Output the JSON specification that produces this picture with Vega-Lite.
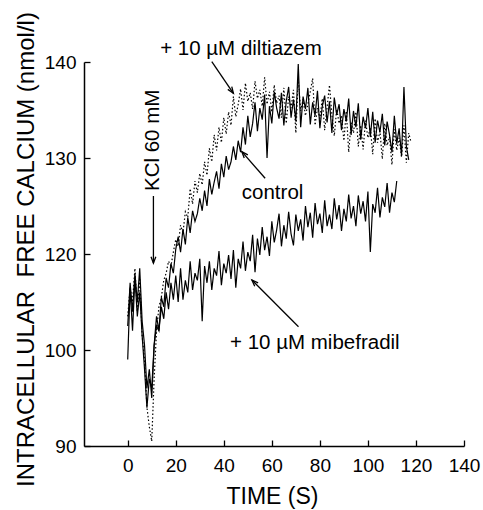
{
"$schema":"https://vega.github.io/schema/vega-lite/v6.json",
"autosize":"none",
"width":380,"height":384,
"padding":{"left":84,"top":62,"right":19,"bottom":64},
"background":"white",
"config":{"view":{"stroke":null},"font":"Liberation Sans"},
"datasets":{
"traces":[
{"s":"mibefradil","t":0,"v":99},{"s":"mibefradil","t":1,"v":113},{"s":"mibefradil","t":2,"v":104},{"s":"mibefradil","t":3,"v":115},{"s":"mibefradil","t":4,"v":107},{"s":"mibefradil","t":5,"v":112},{"s":"mibefradil","t":6,"v":103},{"s":"mibefradil","t":7,"v":98},{"s":"mibefradil","t":8,"v":94},{"s":"mibefradil","t":9,"v":97},
{"s":"mibefradil","t":10,"v":96},{"s":"mibefradil","t":11,"v":101},{"s":"mibefradil","t":12,"v":105},{"s":"mibefradil","t":13,"v":104},{"s":"mibefradil","t":14,"v":109},{"s":"mibefradil","t":15,"v":106.5},{"s":"mibefradil","t":16,"v":112},{"s":"mibefradil","t":17,"v":108.5},{"s":"mibefradil","t":18,"v":114},{"s":"mibefradil","t":19,"v":110.5},
{"s":"mibefradil","t":20,"v":115.5},{"s":"mibefradil","t":21,"v":110},{"s":"mibefradil","t":22,"v":117},{"s":"mibefradil","t":23,"v":110.5},{"s":"mibefradil","t":24,"v":114.5},{"s":"mibefradil","t":25,"v":112},{"s":"mibefradil","t":26,"v":118.5},{"s":"mibefradil","t":27,"v":112.5},{"s":"mibefradil","t":28,"v":116},{"s":"mibefradil","t":29,"v":114.5},
{"s":"mibefradil","t":30,"v":119},{"s":"mibefradil","t":31,"v":106},{"s":"mibefradil","t":32,"v":117.5},{"s":"mibefradil","t":33,"v":114},{"s":"mibefradil","t":34,"v":118.5},{"s":"mibefradil","t":35,"v":112.5},{"s":"mibefradil","t":36,"v":117},{"s":"mibefradil","t":37,"v":115.5},{"s":"mibefradil","t":38,"v":120.3},{"s":"mibefradil","t":39,"v":113.5},
{"s":"mibefradil","t":40,"v":118},{"s":"mibefradil","t":41,"v":116},{"s":"mibefradil","t":42,"v":119.8},{"s":"mibefradil","t":43,"v":114.8},{"s":"mibefradil","t":44,"v":120.4},{"s":"mibefradil","t":45,"v":113},{"s":"mibefradil","t":46,"v":119},{"s":"mibefradil","t":47,"v":117},{"s":"mibefradil","t":48,"v":121.3},{"s":"mibefradil","t":49,"v":116.5},
{"s":"mibefradil","t":50,"v":120.2},{"s":"mibefradil","t":51,"v":118.5},{"s":"mibefradil","t":52,"v":122},{"s":"mibefradil","t":53,"v":116.2},{"s":"mibefradil","t":54,"v":121.6},{"s":"mibefradil","t":55,"v":119.8},{"s":"mibefradil","t":56,"v":122.8},{"s":"mibefradil","t":57,"v":120.4},{"s":"mibefradil","t":58,"v":121.8},{"s":"mibefradil","t":59,"v":119.6},
{"s":"mibefradil","t":60,"v":123.4},{"s":"mibefradil","t":61,"v":121.2},{"s":"mibefradil","t":62,"v":122.5},{"s":"mibefradil","t":63,"v":124.2},{"s":"mibefradil","t":64,"v":120.8},{"s":"mibefradil","t":65,"v":123},{"s":"mibefradil","t":66,"v":121.6},{"s":"mibefradil","t":67,"v":124.4},{"s":"mibefradil","t":68,"v":122.1},{"s":"mibefradil","t":69,"v":120.9},
{"s":"mibefradil","t":70,"v":124.1},{"s":"mibefradil","t":71,"v":122.4},{"s":"mibefradil","t":72,"v":123.6},{"s":"mibefradil","t":73,"v":121.4},{"s":"mibefradil","t":74,"v":125},{"s":"mibefradil","t":75,"v":122.8},{"s":"mibefradil","t":76,"v":124.3},{"s":"mibefradil","t":77,"v":121.7},{"s":"mibefradil","t":78,"v":125.3},{"s":"mibefradil","t":79,"v":123.1},
{"s":"mibefradil","t":80,"v":124.2},{"s":"mibefradil","t":81,"v":122.2},{"s":"mibefradil","t":82,"v":125.6},{"s":"mibefradil","t":83,"v":122.9},{"s":"mibefradil","t":84,"v":124.1},{"s":"mibefradil","t":85,"v":122.6},{"s":"mibefradil","t":86,"v":125.8},{"s":"mibefradil","t":87,"v":123.6},{"s":"mibefradil","t":88,"v":125.1},{"s":"mibefradil","t":89,"v":122.4},
{"s":"mibefradil","t":90,"v":124.7},{"s":"mibefradil","t":91,"v":123.4},{"s":"mibefradil","t":92,"v":126.2},{"s":"mibefradil","t":93,"v":123.7},{"s":"mibefradil","t":94,"v":125},{"s":"mibefradil","t":95,"v":122.9},{"s":"mibefradil","t":96,"v":126.1},{"s":"mibefradil","t":97,"v":124.2},{"s":"mibefradil","t":98,"v":125.5},{"s":"mibefradil","t":99,"v":123.4},
{"s":"mibefradil","t":100,"v":126.5},{"s":"mibefradil","t":101,"v":120.2},{"s":"mibefradil","t":102,"v":125.2},{"s":"mibefradil","t":103,"v":124.3},{"s":"mibefradil","t":104,"v":126.9},{"s":"mibefradil","t":105,"v":123.8},{"s":"mibefradil","t":106,"v":125.9},{"s":"mibefradil","t":107,"v":124.9},{"s":"mibefradil","t":108,"v":127.4},{"s":"mibefradil","t":109,"v":124.3},
{"s":"mibefradil","t":110,"v":126.4},{"s":"mibefradil","t":111,"v":125.4},{"s":"mibefradil","t":112,"v":127.6},
{"s":"control","t":0,"v":105},{"s":"control","t":1,"v":114},{"s":"control","t":2,"v":108},{"s":"control","t":3,"v":116},{"s":"control","t":4,"v":110},{"s":"control","t":5,"v":117},{"s":"control","t":6,"v":106},{"s":"control","t":7,"v":101},{"s":"control","t":8,"v":96},{"s":"control","t":9,"v":98},
{"s":"control","t":10,"v":95},{"s":"control","t":11,"v":101},{"s":"control","t":12,"v":107},{"s":"control","t":13,"v":104},{"s":"control","t":14,"v":111},{"s":"control","t":15,"v":109},{"s":"control","t":16,"v":115},{"s":"control","t":17,"v":113},{"s":"control","t":18,"v":118},{"s":"control","t":19,"v":116},
{"s":"control","t":20,"v":120.5},{"s":"control","t":21,"v":121.8},{"s":"control","t":22,"v":120.2},{"s":"control","t":23,"v":122.6},{"s":"control","t":24,"v":121},{"s":"control","t":25,"v":123.8},{"s":"control","t":26,"v":122.2},{"s":"control","t":27,"v":124.5},{"s":"control","t":28,"v":123.4},{"s":"control","t":29,"v":124.2},
{"s":"control","t":30,"v":125.8},{"s":"control","t":31,"v":124.5},{"s":"control","t":32,"v":126.6},{"s":"control","t":33,"v":125},{"s":"control","t":34,"v":127.8},{"s":"control","t":35,"v":126.2},{"s":"control","t":36,"v":127.5},{"s":"control","t":37,"v":128.6},{"s":"control","t":38,"v":126.8},{"s":"control","t":39,"v":129.4},
{"s":"control","t":40,"v":128},{"s":"control","t":41,"v":130.2},{"s":"control","t":42,"v":128.8},{"s":"control","t":43,"v":129.6},{"s":"control","t":44,"v":131.2},{"s":"control","t":45,"v":129.8},{"s":"control","t":46,"v":131.8},{"s":"control","t":47,"v":130.6},{"s":"control","t":48,"v":133.2},{"s":"control","t":49,"v":131.4},
{"s":"control","t":50,"v":134.4},{"s":"control","t":51,"v":132.2},{"s":"control","t":52,"v":133.6},{"s":"control","t":53,"v":135.8},{"s":"control","t":54,"v":132.8},{"s":"control","t":55,"v":135.2},{"s":"control","t":56,"v":134},{"s":"control","t":57,"v":136.6},{"s":"control","t":58,"v":130},{"s":"control","t":59,"v":135.4},
{"s":"control","t":60,"v":133.6},{"s":"control","t":61,"v":136.9},{"s":"control","t":62,"v":135.2},{"s":"control","t":63,"v":134.1},{"s":"control","t":64,"v":136.8},{"s":"control","t":65,"v":133.4},{"s":"control","t":66,"v":135.9},{"s":"control","t":67,"v":137.4},{"s":"control","t":68,"v":134.2},{"s":"control","t":69,"v":136.1},
{"s":"control","t":70,"v":133.8},{"s":"control","t":71,"v":139.8},{"s":"control","t":72,"v":133.2},{"s":"control","t":73,"v":136.4},{"s":"control","t":74,"v":135.1},{"s":"control","t":75,"v":137.3},{"s":"control","t":76,"v":133.5},{"s":"control","t":77,"v":135.8},{"s":"control","t":78,"v":134.4},{"s":"control","t":79,"v":137},
{"s":"control","t":80,"v":133.1},{"s":"control","t":81,"v":135.4},{"s":"control","t":82,"v":136.5},{"s":"control","t":83,"v":133.7},{"s":"control","t":84,"v":135.9},{"s":"control","t":85,"v":132.6},{"s":"control","t":86,"v":136.3},{"s":"control","t":87,"v":134.5},{"s":"control","t":88,"v":135.6},{"s":"control","t":89,"v":132.9},
{"s":"control","t":90,"v":135.1},{"s":"control","t":91,"v":133.8},{"s":"control","t":92,"v":136.2},{"s":"control","t":93,"v":132.4},{"s":"control","t":94,"v":134.9},{"s":"control","t":95,"v":133.2},{"s":"control","t":96,"v":135.7},{"s":"control","t":97,"v":131.9},{"s":"control","t":98,"v":134.3},{"s":"control","t":99,"v":133.1},
{"s":"control","t":100,"v":135.2},{"s":"control","t":101,"v":132.2},{"s":"control","t":102,"v":134.8},{"s":"control","t":103,"v":131.6},{"s":"control","t":104,"v":133.9},{"s":"control","t":105,"v":132.7},{"s":"control","t":106,"v":134.6},{"s":"control","t":107,"v":131.3},{"s":"control","t":108,"v":133.8},{"s":"control","t":109,"v":132.4},
{"s":"control","t":110,"v":130.6},{"s":"control","t":111,"v":134.4},{"s":"control","t":112,"v":131.5},{"s":"control","t":113,"v":133.1},{"s":"control","t":114,"v":130.2},{"s":"control","t":115,"v":137.4},{"s":"control","t":116,"v":131.2},{"s":"control","t":117,"v":129.8},
{"s":"diltiazem","t":0,"v":107},{"s":"diltiazem","t":1,"v":113},{"s":"diltiazem","t":2,"v":110},{"s":"diltiazem","t":3,"v":117},{"s":"diltiazem","t":4,"v":108},{"s":"diltiazem","t":5,"v":115},{"s":"diltiazem","t":6,"v":103},{"s":"diltiazem","t":7,"v":99},{"s":"diltiazem","t":8,"v":94},{"s":"diltiazem","t":9,"v":92},
{"s":"diltiazem","t":10,"v":90.5},{"s":"diltiazem","t":11,"v":97},{"s":"diltiazem","t":12,"v":104},{"s":"diltiazem","t":13,"v":109},{"s":"diltiazem","t":14,"v":111},{"s":"diltiazem","t":15,"v":114.5},{"s":"diltiazem","t":16,"v":116},{"s":"diltiazem","t":17,"v":118.5},{"s":"diltiazem","t":18,"v":117.5},{"s":"diltiazem","t":19,"v":120.2},
{"s":"diltiazem","t":20,"v":121.5},{"s":"diltiazem","t":21,"v":120.8},{"s":"diltiazem","t":22,"v":123},{"s":"diltiazem","t":23,"v":122.2},{"s":"diltiazem","t":24,"v":124.4},{"s":"diltiazem","t":25,"v":123.8},{"s":"diltiazem","t":26,"v":126.8},{"s":"diltiazem","t":27,"v":125.2},{"s":"diltiazem","t":28,"v":127.6},{"s":"diltiazem","t":29,"v":126.4},
{"s":"diltiazem","t":30,"v":128.4},{"s":"diltiazem","t":31,"v":127.2},{"s":"diltiazem","t":32,"v":129.6},{"s":"diltiazem","t":33,"v":128.2},{"s":"diltiazem","t":34,"v":131},{"s":"diltiazem","t":35,"v":129.6},{"s":"diltiazem","t":36,"v":132.4},{"s":"diltiazem","t":37,"v":130.8},{"s":"diltiazem","t":38,"v":133.2},{"s":"diltiazem","t":39,"v":131.6},
{"s":"diltiazem","t":40,"v":134.2},{"s":"diltiazem","t":41,"v":132.5},{"s":"diltiazem","t":42,"v":134.8},{"s":"diltiazem","t":43,"v":133.4},{"s":"diltiazem","t":44,"v":136.4},{"s":"diltiazem","t":45,"v":134.3},{"s":"diltiazem","t":46,"v":135.6},{"s":"diltiazem","t":47,"v":137.2},{"s":"diltiazem","t":48,"v":135},{"s":"diltiazem","t":49,"v":137.8},
{"s":"diltiazem","t":50,"v":135.9},{"s":"diltiazem","t":51,"v":136.8},{"s":"diltiazem","t":52,"v":135.1},{"s":"diltiazem","t":53,"v":138},{"s":"diltiazem","t":54,"v":136.2},{"s":"diltiazem","t":55,"v":137.1},{"s":"diltiazem","t":56,"v":135.4},{"s":"diltiazem","t":57,"v":138.4},{"s":"diltiazem","t":58,"v":135.6},{"s":"diltiazem","t":59,"v":136.9},
{"s":"diltiazem","t":60,"v":134.8},{"s":"diltiazem","t":61,"v":137.6},{"s":"diltiazem","t":62,"v":135.7},{"s":"diltiazem","t":63,"v":136.5},{"s":"diltiazem","t":64,"v":134.2},{"s":"diltiazem","t":65,"v":137.3},{"s":"diltiazem","t":66,"v":133.6},{"s":"diltiazem","t":67,"v":136.4},{"s":"diltiazem","t":68,"v":135.2},{"s":"diltiazem","t":69,"v":137.1},
{"s":"diltiazem","t":70,"v":132.6},{"s":"diltiazem","t":71,"v":138.2},{"s":"diltiazem","t":72,"v":134.9},{"s":"diltiazem","t":73,"v":136.1},{"s":"diltiazem","t":74,"v":134.4},{"s":"diltiazem","t":75,"v":135.6},{"s":"diltiazem","t":76,"v":136.9},{"s":"diltiazem","t":77,"v":138.3},{"s":"diltiazem","t":78,"v":133.4},{"s":"diltiazem","t":79,"v":135.2},
{"s":"diltiazem","t":80,"v":134.1},{"s":"diltiazem","t":81,"v":136.2},{"s":"diltiazem","t":82,"v":132.9},{"s":"diltiazem","t":83,"v":135.3},{"s":"diltiazem","t":84,"v":137.6},{"s":"diltiazem","t":85,"v":134.5},{"s":"diltiazem","t":86,"v":132.3},{"s":"diltiazem","t":87,"v":135.1},{"s":"diltiazem","t":88,"v":133.6},{"s":"diltiazem","t":89,"v":134.4},
{"s":"diltiazem","t":90,"v":131.8},{"s":"diltiazem","t":91,"v":134.9},{"s":"diltiazem","t":92,"v":130.6},{"s":"diltiazem","t":93,"v":133.7},{"s":"diltiazem","t":94,"v":132.6},{"s":"diltiazem","t":95,"v":134.8},{"s":"diltiazem","t":96,"v":131.2},{"s":"diltiazem","t":97,"v":133.4},{"s":"diltiazem","t":98,"v":130.9},{"s":"diltiazem","t":99,"v":133.9},
{"s":"diltiazem","t":100,"v":132.1},{"s":"diltiazem","t":101,"v":133.2},{"s":"diltiazem","t":102,"v":130.4},{"s":"diltiazem","t":103,"v":134.1},{"s":"diltiazem","t":104,"v":131.6},{"s":"diltiazem","t":105,"v":132.8},{"s":"diltiazem","t":106,"v":129.9},{"s":"diltiazem","t":107,"v":133.6},{"s":"diltiazem","t":108,"v":131.3},{"s":"diltiazem","t":109,"v":132.2},
{"s":"diltiazem","t":110,"v":129.3},{"s":"diltiazem","t":111,"v":133},{"s":"diltiazem","t":112,"v":130.8},{"s":"diltiazem","t":113,"v":132.1},{"s":"diltiazem","t":114,"v":130.1},{"s":"diltiazem","t":115,"v":133.4},{"s":"diltiazem","t":116,"v":129.5},{"s":"diltiazem","t":117,"v":132.6},{"s":"diltiazem","t":118,"v":131.6}
],
"labels":[
{"label":"+ 10 µM diltiazem","t":13.5,"v":140.73},
{"label":"control","t":47.5,"v":125.7},
{"label":"+ 10 µM mibefradil","t":42.6,"v":100.15}
],
"arrows":[
{"name":"diltiazem","t":35,"v":140.03,"t2":44,"v2":136.74},
{"name":"control","t":57.2,"v":127.89,"t2":47.5,"v2":130.66},
{"name":"mibefradil","t":71.1,"v":104.85,"t2":51.7,"v2":114.58},
{"name":"KCl","t":10.7,"v":126.04,"t2":10.7,"v2":118.1}
]
},
"encoding":{
"x":{"field":"t","type":"quantitative",
 "scale":{"domain":[-18.2,140],"nice":false,"zero":false},
 "axis":{"values":[0,20,40,60,80,100,120,140],"grid":false,"tickSize":-6,"tickWidth":1.3,"tickColor":"black","domainColor":"black","domainWidth":1.5,
  "labelFont":"Liberation Sans","labelFontSize":19,"labelColor":"black","labelPadding":16,"labelFlush":false,"labelOverlap":false,
  "title":"TIME (S)","titleFont":"Liberation Sans","titleFontSize":23,"titleFontWeight":"normal","titleColor":"black",
  "titleX":188,"titleY":57.5,"titleAlign":"center","titleBaseline":"alphabetic"}},
"y":{"field":"v","type":"quantitative",
 "scale":{"domain":[90,100,120,130,140],"range":[384,288,192,96,0],"nice":false,"zero":false},
 "axis":{"values":[90,100,120,130,140],"grid":false,"tickSize":-6,"tickWidth":1.3,"tickColor":"black","domainColor":"black","domainWidth":1.5,
  "labelFont":"Liberation Sans","labelFontSize":19,"labelColor":"black","labelPadding":14,"labelFlush":false,"labelOverlap":false,
  "title":"INTRACELLULAR\u00a0 FREE CALCIUM (nmol/l)","titleFont":"Liberation Sans","titleFontSize":24,"titleFontWeight":"normal","titleColor":"black",
  "titleAngle":270,"titleX":-51,"titleY":187,"titleAlign":"center","titleBaseline":"alphabetic"}}
},
"layer":[
{"data":{"name":"traces"},
 "mark":{"type":"line","color":"black","strokeWidth":1.2,"interpolate":"linear"},
 "encoding":{"detail":{"field":"s"},
  "strokeDash":{"field":"s","type":"nominal","scale":{"domain":["mibefradil","control","diltiazem"],"range":[[1,0],[1,0],[1.5,2.2]]},"legend":null},
  "order":{"field":"t"}}},
{"data":{"name":"labels"},
 "mark":{"type":"text","align":"left","baseline":"alphabetic","font":"Liberation Sans","fontSize":20.5,"color":"black"},
 "encoding":{"text":{"field":"label"}}},
{"data":{"values":[{"label":"KCl 60 mM","t":13.2,"v":126.56}]},
 "mark":{"type":"text","align":"left","baseline":"alphabetic","angle":270,"font":"Liberation Sans","fontSize":20.5,"color":"black"},
 "encoding":{"text":{"field":"label"}}},
{"data":{"name":"arrows"},
 "mark":{"type":"rule","color":"black","strokeWidth":1.3},
 "encoding":{"x2":{"field":"t2"},"y2":{"field":"v2"}}},
{"data":{"values":[{"t":44,"v":136.74}]},
 "mark":{"type":"point","shape":"M-0.6,1.6L0,0L0.6,1.6","filled":false,"stroke":"black","strokeWidth":1.3,"size":64,"angle":145.6,"opacity":1}},
{"data":{"values":[{"t":47.5,"v":130.66}]},
 "mark":{"type":"point","shape":"M-0.6,1.6L0,0L0.6,1.6","filled":false,"stroke":"black","strokeWidth":1.3,"size":64,"angle":318.8,"opacity":1}},
{"data":{"values":[{"t":51.7,"v":114.58}]},
 "mark":{"type":"point","shape":"M-0.6,1.6L0,0L0.6,1.6","filled":false,"stroke":"black","strokeWidth":1.3,"size":64,"angle":315,"opacity":1}},
{"data":{"values":[{"t":10.7,"v":118.1}]},
 "mark":{"type":"point","shape":"M-0.6,1.6L0,0L0.6,1.6","filled":false,"stroke":"black","strokeWidth":1.3,"size":64,"angle":180,"opacity":1}}
]
}
